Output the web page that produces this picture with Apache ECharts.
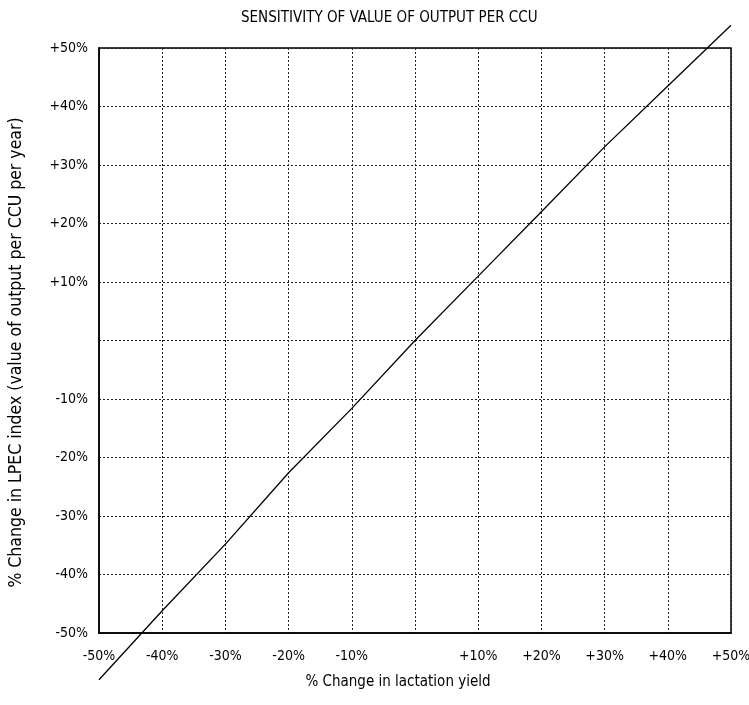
<!DOCTYPE html>
<html>
<head>
<meta charset="utf-8">
<script src="https://cdn.jsdelivr.net/npm/echarts@6/dist/echarts.min.js"></script>
<style>html,body{margin:0;padding:0;background:#fff}#c{width:749px;height:705px}</style>
</head>
<body>
<div id="c"></div>
<script>
var xChange = [-50, -40, -30, -20, -10, 0, 10, 20, 30, 40, 50];
var yIndex = [-58, -46.2, -34.8, -22.6, -11.6, 0, 11, 22, 33.1, 43.5, 53.9];
var tickValues = [-50, -40, -30, -20, -10, 0, 10, 20, 30, 40, 50];
var tickLabels = ['-50%', '-40%', '-30%', '-20%', '-10%', '', '+10%', '+20%', '+30%', '+40%', '+50%'];

var FONT = '"DejaVu Sans Condensed", "Liberation Sans Narrow", sans-serif';
function fmt(v) {
  var i = tickValues.indexOf(v);
  return i >= 0 ? tickLabels[i] : '';
}
var chart = echarts.init(document.getElementById('c'));
chart.setOption({
  animation: false,
  backgroundColor: '#fff',
  title: {
    text: 'SENSITIVITY OF VALUE OF OUTPUT PER CCU',
    left: 236, top: 6,
    textStyle: {fontFamily: FONT, fontSize: 15, fontWeight: 'normal', color: '#000'}
  },
  grid: {left: 99, right: 18, top: 48, bottom: 72, show: true, borderColor: '#000', borderWidth: 1.5,
         containLabel: false, outerBoundsMode: 'none'},
  xAxis: {
    type: 'value', min: -50, max: 50, interval: 10,
    name: '% Change in lactation yield', nameLocation: 'middle', nameGap: 42,
    nameTextStyle: {fontFamily: FONT, fontSize: 15, color: '#000', padding: [0, 34, 0, 0]},
    axisLine: {show: true, onZero: false, lineStyle: {color: '#000', width: 1.5}},
    axisTick: {show: false},
    axisLabel: {formatter: fmt, margin: 16, fontFamily: FONT, fontSize: 14, color: '#000'},
    splitLine: {show: true, lineStyle: {color: '#222', width: 1, type: [2, 2]}}
  },
  yAxis: {
    type: 'value', min: -50, max: 50, interval: 10,
    name: '% Change in LPEC index (value of output per CCU per year)', nameLocation: 'middle', nameGap: 74,
    nameTextStyle: {fontFamily: FONT, fontSize: 17.5, color: '#000', padding: [0, 24, 0, 0]},
    axisLine: {show: true, onZero: false, lineStyle: {color: '#000', width: 1.5}},
    axisTick: {show: false},
    axisLabel: {formatter: fmt, margin: 11, fontFamily: FONT, fontSize: 14, color: '#000'},
    splitLine: {show: true, lineStyle: {color: '#222', width: 1, type: [2, 2]}}
  },
  series: [{
    type: 'line',
    data: xChange.map(function (x, i) { return [x, yIndex[i]]; }),
    showSymbol: false, symbol: 'none',
    clip: false,
    lineStyle: {color: '#000', width: 1.3}
  }]
});
</script>
</body>
</html>
